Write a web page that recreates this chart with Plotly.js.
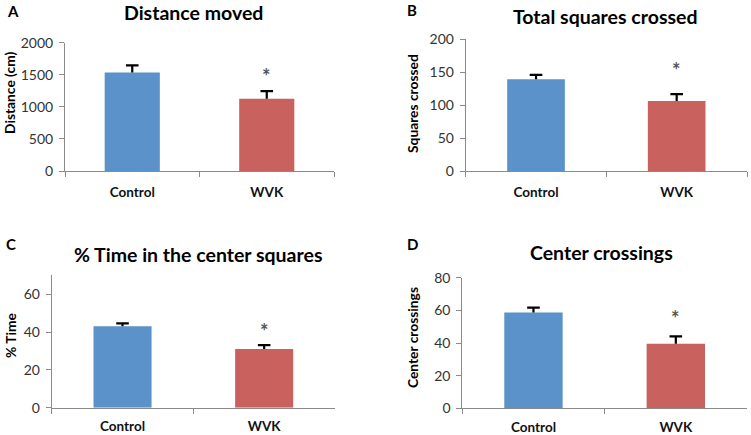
<!DOCTYPE html>
<html>
<head>
<meta charset="utf-8">
<script src="https://cdn.plot.ly/plotly-3.0.1.min.js"></script>
<style>html,body{margin:0;padding:0;background:#fff;}#chart{width:751px;height:435px;}</style>
</head>
<body>
<div id="chart"></div>
<script>
// ---- data ----
const categories = ["Control", "WVK"];
const panelLetters = ["A", "B", "C", "D"];
const panelTitles = ["Distance moved", "Total squares crossed", "% Time in the center squares", "Center crossings"];
const yTitles = ["Distance (cm)", "Squares crossed", "% Time", "Center crossings"];
const distanceMean = [1535, 1125];
const distanceErr = [110, 120];
const squaresMean = [139, 106];
const squaresErr = [6.5, 10.5];
const timeCenterMean = [43, 31];
const timeCenterErr = [1.6, 2.1];
const centerCrossMean = [58.7, 39.5];
const centerCrossErr = [3, 4.5];
const yMax = [2000, 200, 70, 80];
const yDtick = [500, 50, 20, 20];
const starLevel = [1530, 158, 42, 57]; // "*" marks over WVK bars

const means = [distanceMean, squaresMean, timeCenterMean, centerCrossMean];
const errs = [distanceErr, squaresErr, timeCenterErr, centerCrossErr];
const barColors = ["#5A92C9", "#C9625F"];

// ---- layout geometry (pixels -> paper) ----
const W = 751, H = 435;
const boxes = [
  {x0: 65, x1: 334, yb: 171, yt: 42.7},
  {x0: 465.7, x1: 747, yb: 171, yt: 39},
  {x0: 51.7, x1: 335, yb: 407.7, yt: 275.3},
  {x0: 462.3, x1: 747, yb: 408.3, yt: 277.7}
];
const labelStandoff = [9, 9, 6, 6];
const titlePos = [[193, 12], [605, 16], [198, 254], [601, 252]];
const letterPos = [[13, 11], [412, 10], [11, 244], [412, 244]];
const yTitlePos = [[10, 93], [412, 104], [10, 336], [412, 338]];

const font = "Lato, 'Open Sans', Arial, sans-serif";
const traces = [];
const layout = {
  width: W, height: H,
  margin: {l: 0, r: 0, t: 0, b: 0},
  paper_bgcolor: "#fff", plot_bgcolor: "#fff",
  showlegend: false,
  bargap: 0.59,
  font: {family: font, color: "#222"},
  annotations: []
};

for (let i = 0; i < 4; i++) {
  const s = i === 0 ? "" : String(i + 1);
  traces.push({
    type: "bar",
    x: categories,
    y: means[i],
    xaxis: "x" + s, yaxis: "y" + s,
    marker: {color: barColors, line: {width: 0}},
    hoverinfo: "none"
  });
  // upper-only error bars: stem from the bar top, cap marker at the top
  traces.push({
    type: "scatter", mode: "markers",
    x: categories,
    y: means[i].map((m, k) => m + errs[i][k]),
    xaxis: "x" + s, yaxis: "y" + s,
    marker: {symbol: "line-ew-open", size: 9, color: "#000", line: {color: "#000", width: 2.2}},
    error_y: {type: "data", symmetric: false, array: [0, 0], arrayminus: errs[i],
              color: "#000", thickness: 2.2, width: 0},
    hoverinfo: "none"
  });
  const b = boxes[i];
  layout["xaxis" + s] = {
    domain: [b.x0 / W, b.x1 / W],
    anchor: "y" + s,
    type: "category",
    showline: true, linecolor: "#8a8a8a", linewidth: 1,
    ticks: "outside", tickson: "boundaries", ticklen: 5, tickcolor: "#8a8a8a",
    showgrid: false, zeroline: false,
    tickfont: {family: font, size: 13.5, weight: "bold", color: "#111"},
    ticklabelstandoff: labelStandoff[i]
  };
  layout["yaxis" + s] = {
    domain: [1 - b.yb / H, 1 - b.yt / H],
    anchor: "x" + s,
    range: [0, yMax[i]],
    dtick: yDtick[i], tick0: 0,
    showline: true, linecolor: "#8a8a8a", linewidth: 1,
    ticks: "outside", ticklen: 5, tickcolor: "#8a8a8a",
    showgrid: false, zeroline: false,
    tickfont: {family: font, size: 14, color: "#333"},
    ticklabelstandoff: 3
  };
  layout.annotations.push({
    xref: "paper", yref: "paper", x: titlePos[i][0] / W, y: 1 - titlePos[i][1] / H,
    xanchor: "center", yanchor: "middle", showarrow: false,
    text: panelTitles[i], font: {family: font, size: 19.5, weight: "bold", color: "#000"}
  });
  layout.annotations.push({
    xref: "paper", yref: "paper", x: letterPos[i][0] / W, y: 1 - letterPos[i][1] / H,
    xanchor: "center", yanchor: "middle", showarrow: false,
    text: panelLetters[i], font: {family: font, size: 15, weight: "bold", color: "#000"}
  });
  layout.annotations.push({
    xref: "paper", yref: "paper", x: yTitlePos[i][0] / W, y: 1 - yTitlePos[i][1] / H,
    xanchor: "center", yanchor: "middle", showarrow: false, textangle: -90,
    text: yTitles[i], font: {family: font, size: 13.8, weight: "bold", color: "#000"}
  });
  layout.annotations.push({
    xref: "x" + s, yref: "y" + s, x: categories[1], y: starLevel[i],
    xanchor: "center", yanchor: "middle", showarrow: false, yshift: -3,
    text: "*", font: {family: font, size: 20, weight: "bold", color: "#555"}
  });
}

Plotly.newPlot("chart", traces, layout, {staticPlot: true});
</script>
</body>
</html>
